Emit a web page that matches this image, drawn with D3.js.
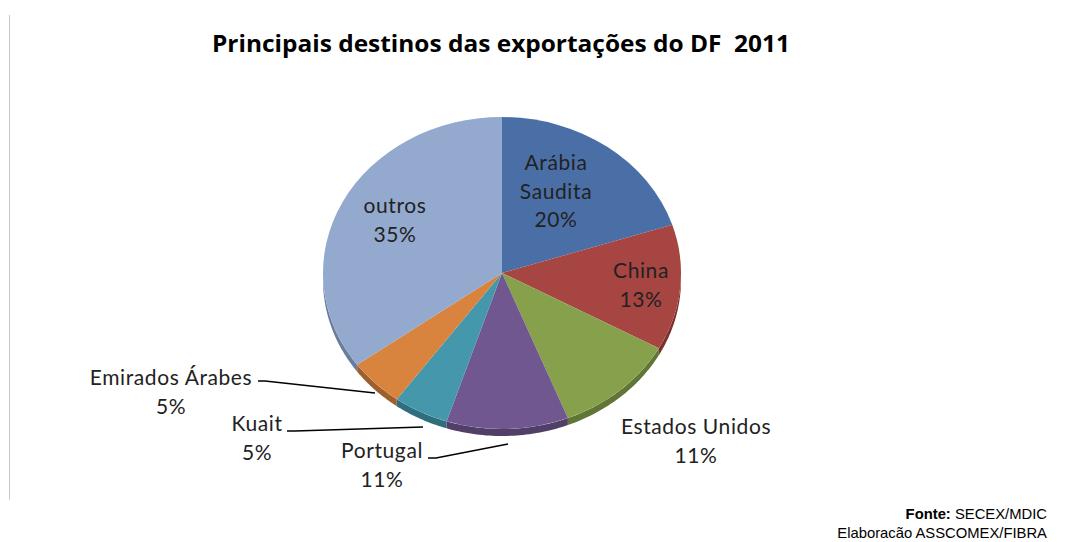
<!DOCTYPE html>
<html><head><meta charset="utf-8">
<script src="https://cdn.jsdelivr.net/npm/d3@7"></script>
<style>body{margin:0;background:#fff}svg{display:block}text{white-space:pre}</style>
</head><body>
<svg id="c" width="1065" height="542"></svg>
<script>
const categories = ["Arábia Saudita","China","Estados Unidos","Portugal","Kuait","Emirados Árabes","outros"];
const values = [20,13,11,11,5,5,35];
const percentLabels = ["20%","13%","11%","11%","5%","5%","35%"];
const colors = ["#4a6fa6","#a64542","#87a04b","#71578f","#4597ab","#d8843f","#93a9ce"];
const sideColors = ["#34507a","#7a302e","#617536","#513f68","#2f6e7e","#9e5f2c","#6a7d9c"];

const svg = d3.select("#c");
const cx = 502, cy = 273, rx = 179, ry = 156, depth = 7;

svg.append("line").attr("x1",9.5).attr("x2",9.5).attr("y1",15).attr("y2",500)
  .attr("stroke","#c8c8c8").attr("stroke-width",1);

svg.append("text").attr("x",501).attr("y",52).attr("text-anchor","middle")
  .attr("font-family","'Liberation Sans Narrow','Open Sans',sans-serif").attr("font-weight","bold")
  .attr("font-size",23).attr("fill","#000").attr("textLength",578).attr("lengthAdjust","spacingAndGlyphs")
  .text("Principais destinos das exportações do DF  2011");

const pie = d3.pie().sort(null).value(d=>d)(values);
const arc = d3.arc().innerRadius(0).outerRadius(rx);
const sy = ry/rx;

const g = svg.append("g").attr("transform",`translate(${cx},${cy})`);

function pt(a, off){ return [rx*Math.sin(a), -ry*Math.cos(a)+off]; }
pie.forEach((p,i)=>{
  const a0 = Math.max(p.startAngle, Math.PI/2), a1 = Math.min(p.endAngle, 3*Math.PI/2);
  if (a1 <= a0) return;
  const n = 40, top=[], bot=[];
  for (let k=0;k<=n;k++){ const a=a0+(a1-a0)*k/n; top.push(pt(a,0)); bot.push(pt(a,depth)); }
  const pts = top.concat(bot.reverse());
  g.append("path").attr("d", d3.line()(pts)+"Z").attr("fill",sideColors[i]);
});

const faces = g.append("g").attr("transform",`scale(1,${sy})`);
faces.selectAll("path").data(pie).join("path")
  .attr("d",arc).attr("fill",(d,i)=>colors[i]);

const font = "Lato,'Open Sans',sans-serif";
const labelPos = [
  {x:556, y:170, lines:["Arábia","Saudita"]},
  {x:641, y:278, lines:["China"]},
  {x:696, y:434, lines:["Estados Unidos"]},
  {x:382, y:458, lines:["Portugal"]},
  {x:257, y:431, lines:["Kuait"]},
  {x:171, y:385, lines:["Emirados Árabes"]},
  {x:395, y:213, lines:["outros"]}
];
const lh = 28.5;
categories.forEach((c,i)=>{
  const L = labelPos[i];
  const t = svg.append("text").attr("text-anchor","middle").attr("font-family",font)
    .attr("font-size",21).attr("letter-spacing",0.6).attr("fill","#222");
  L.lines.concat([percentLabels[i]]).forEach((s,k)=>{
    t.append("tspan").attr("x",L.x).attr("y",L.y+k*lh).text(s);
  });
});

const leaders = [
  [[258,381],[265,381],[375,393]],
  [[287,431],[295,431],[423,427]],
  [[428,458],[436,458],[508,444]]
];
leaders.forEach(l=>{
  svg.append("path").attr("d",d3.line()(l)).attr("fill","none").attr("stroke","#000").attr("stroke-width",1.5);
});

const f1 = svg.append("text").attr("x",1047).attr("y",519).attr("text-anchor","end")
  .attr("font-family","'Liberation Sans',Arial,sans-serif").attr("font-size",14.8).attr("fill","#000");
f1.append("tspan").attr("font-weight","bold").text("Fonte:");
f1.append("tspan").text(" SECEX/MDIC");
svg.append("text").attr("x",1047).attr("y",538).attr("text-anchor","end")
  .attr("font-family","'Liberation Sans',Arial,sans-serif").attr("font-size",14.8).attr("fill","#000")
  .text("Elaboracão ASSCOMEX/FIBRA");
</script>
</body></html>
